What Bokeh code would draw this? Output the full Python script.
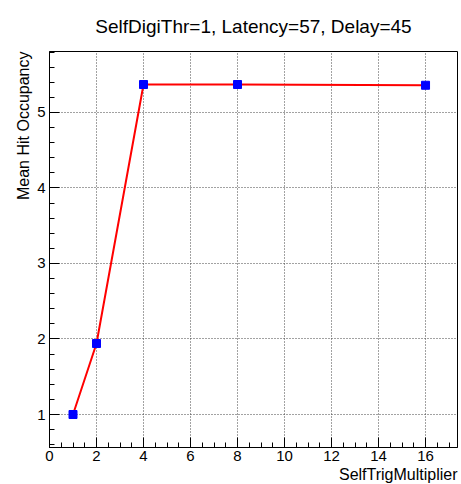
from bokeh.plotting import figure
from bokeh.models import Range1d, FixedTicker, Title, ColumnDataSource
from bokeh.embed import file_html
from bokeh.resources import INLINE

# Scan of SelfTrigMultiplier vs mean hit occupancy
multiplier = [1, 2, 4, 8, 16]
occupancy = [1.0, 1.94, 5.37, 5.37, 5.36]
x_ticks = [0, 2, 4, 6, 8, 10, 12, 14, 16]
y_ticks = [1, 2, 3, 4, 5]
title_text = "SelfDigiThr=1, Latency=57, Delay=45"
x_title = "SelfTrigMultiplier"
y_title = "Mean Hit Occupancy"

FONT = "Liberation Sans"

p = figure(width=461, height=484, output_backend="svg", toolbar_location=None,
           x_range=Range1d(0, 17.36), y_range=Range1d(0.563, 5.807),
           min_border_left=49, min_border_right=4, min_border_top=51,
           min_border_bottom=37)
p.outline_line_color = "black"
p.outline_line_width = 1
p.background_fill_color = "white"
p.border_fill_color = "white"

p.title.text = title_text
p.title.align = "center"
p.title.text_font = FONT
p.title.text_font_size = "19px"
p.title.text_font_style = "normal"
p.title.text_color = "black"
p.title.standoff = 26
p.title.vertical_align = "top"

x_minor = [t / 10 for t in range(0, 180, 5)]
y_minor = [t / 10 for t in range(4, 60, 2)]
for ax, ticks, minor in ((p.xaxis, x_ticks, x_minor), (p.yaxis, y_ticks, y_minor)):
    ax.ticker = FixedTicker(ticks=ticks, minor_ticks=minor)
    ax.major_tick_in = 10
    ax.major_tick_out = 0
    ax.minor_tick_in = 5
    ax.minor_tick_out = 0
    ax.axis_line_color = "black"
    ax.major_tick_line_color = "black"
    ax.minor_tick_line_color = "black"
    ax.major_label_text_font = FONT
    ax.major_label_text_font_size = "15px"
    ax.major_label_text_color = "black"

p.xaxis.major_label_standoff = 3
p.yaxis.major_label_standoff = 4

p.xgrid.ticker = FixedTicker(ticks=x_ticks)
p.ygrid.ticker = FixedTicker(ticks=y_ticks)
for g in (p.xgrid, p.ygrid):
    g.grid_line_color = "#444444"
    g.grid_line_dash = "1 2"
    g.grid_line_width = 1

src = ColumnDataSource(dict(x=multiplier, y=occupancy))
p.line("x", "y", source=src, line_color="red", line_width=2)
p.scatter("x", "y", source=src, marker="square", size=8, fill_color="blue",
          line_color="blue")

# axis titles, right-aligned along their axes
p.add_layout(Title(text=x_title, align="right", text_font=FONT,
                   text_font_size="16px", text_font_style="normal",
                   text_color="black", standoff=0), "below")
p.add_layout(Title(text=y_title, align="right", text_font=FONT,
                   text_font_size="16px", text_font_style="normal",
                   text_color="black", standoff=6), "left")

open("out.html", "w").write(file_html(p, INLINE))
